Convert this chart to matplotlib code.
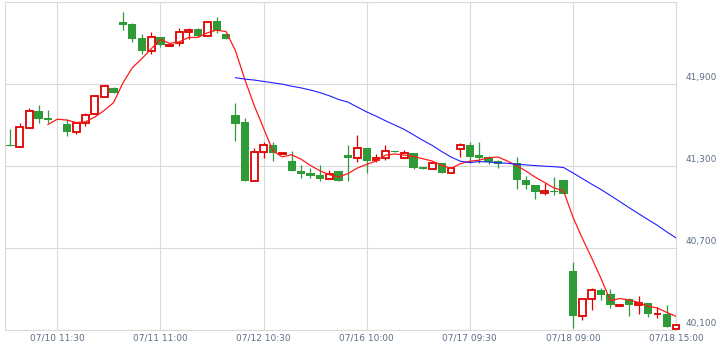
import pandas as pd
import matplotlib
matplotlib.use("Agg")
import matplotlib.pyplot as plt

# OHLC data, 30-minute bars
opens = [41450, 41435, 41575, 41700, 41650, 41640, 41605, 41550, 41610, 41675,
         41800, 41870, 42350, 42335, 42230, 42140, 42240, 42175, 42200, 42280,
         42300, 42245, 42355, 42265, 41670, 41620, 41190, 41400, 41450, 41385,
         41335, 41265, 41245, 41230, 41200, 41260, 41375, 41355, 41430, 41340,
         41360, 41410, 41360, 41390, 41290, 41275, 41320, 41245, 41420, 41450,
         41375, 41365, 41335, 41310, 41320, 41195, 41160, 41100, 41115, 41195,
         40530, 40205, 40330, 40395, 40360, 40275, 40330, 40280, 40300, 40215,
         40220, 40110]
highs = [41570, 41610, 41720, 41745, 41705, 41640, 41640, 41610, 41685, 41810,
         41890, 41875, 42425, 42340, 42265, 42280, 42240, 42185, 42305, 42310,
         42305, 42350, 42390, 42265, 41755, 41650, 41430, 41475, 41475, 41390,
         41405, 41305, 41280, 41305, 41270, 41260, 41450, 41525, 41430, 41385,
         41450, 41410, 41415, 41390, 41290, 41320, 41320, 41280, 41465, 41475,
         41475, 41370, 41340, 41310, 41365, 41225, 41160, 41175, 41220, 41195,
         40595, 40330, 40410, 40410, 40400, 40285, 40335, 40345, 40300, 40265,
         40285, 40135]
lows = [41445, 41435, 41575, 41610, 41610, 41640, 41515, 41535, 41590, 41675,
        41800, 41830, 42290, 42205, 42115, 42120, 42165, 42175, 42175, 42225,
        42240, 42245, 42270, 42225, 41480, 41190, 41190, 41355, 41335, 41385,
        41265, 41210, 41210, 41190, 41200, 41190, 41190, 41325, 41250, 41325,
        41340, 41400, 41355, 41275, 41275, 41275, 41245, 41245, 41365, 41320,
        41320, 41315, 41285, 41310, 41130, 41130, 41055, 41085, 41085, 41095,
        40115, 40175, 40245, 40320, 40260, 40275, 40200, 40220, 40195, 40185,
        40125, 40110]
closes = [41445, 41580, 41700, 41645, 41635, 41640, 41550, 41610, 41670, 41810,
          41880, 41835, 42330, 42225, 42135, 42240, 42185, 42185, 42280, 42295,
          42245, 42350, 42285, 42225, 41605, 41190, 41400, 41455, 41390, 41390,
          41265, 41240, 41225, 41200, 41240, 41190, 41355, 41430, 41335, 41360,
          41405, 41400, 41390, 41285, 41275, 41320, 41245, 41280, 41455, 41365,
          41360, 41330, 41310, 41310, 41195, 41160, 41105, 41115, 41110, 41095,
          40205, 40330, 40395, 40355, 40285, 40285, 40280, 40300, 40220, 40220,
          40125, 40135]

tick_pos = [5, 16, 27, 38, 49, 60, 71]
tick_labels = ["07/10 11:30", "07/11 11:00", "07/12 10:30", "07/16 10:00",
               "07/17 09:30", "07/18 09:00", "07/18 15:00"]
price_ticks = [40100, 40700, 41300, 41900, 42500]

df = pd.DataFrame({"open": opens, "high": highs, "low": lows, "close": closes})
df["ma5"] = df["close"].rolling(5).mean()
df["ma25"] = df["close"].rolling(25).mean()
x = df.index.values

up_color = "#dd0000"
down_color = "#2e9a38"
grid_color = "#dadada"
text_color = "#5f6e86"

fig = plt.figure(figsize=(7.23, 3.51), dpi=100)
ax = fig.add_axes([5 / 723, 21 / 351, 671 / 723, 328.5 / 351])

up = df["close"] > df["open"]
down = ~up

# wicks
ax.vlines(x[up], df["low"][up], df["high"][up], color=up_color, lw=0.9, zorder=2, clip_on=False)
ax.vlines(x[down], df["low"][down], df["high"][down], color=down_color, lw=0.9, zorder=2, clip_on=False)

# bodies
body_down = (df["open"] - df["close"])[down].clip(lower=4)
ax.bar(x[down], body_down, bottom=df["close"][down], width=0.88,
       color=down_color, linewidth=0, zorder=3)
body_up = (df["close"] - df["open"])[up].clip(lower=4)
bars = ax.bar(x[up], body_up, bottom=df["open"][up], width=0.74,
              facecolor="white", edgecolor=up_color, linewidth=1.3, zorder=3)
for b in bars:
    b.set_clip_on(False)

# moving averages
ax.plot(x, df["ma5"], color="#ff1a1a", lw=0.9, zorder=4)
ax.plot(x, df["ma25"], color="#2020ff", lw=0.8, zorder=4)

ax.set_xlim(-0.58, 71.0)
ax.set_ylim(40100, 42500)
ax.set_xticks(tick_pos)
ax.set_xticklabels(tick_labels)
ax.set_yticks(price_ticks)
ax.set_yticklabels([])
ax.grid(True, color=grid_color, lw=0.8, zorder=0)
ax.set_axisbelow(True)
ax.tick_params(length=0, labelsize=6.5, labelcolor=text_color, pad=2.5)
for s in ax.spines.values():
    s.set_color(grid_color)
    s.set_linewidth(0.8)

# price labels sit just above their gridline on the right side
for v in price_ticks[:-1]:
    ax.annotate(f"{v:,}", xy=(1, v), xycoords=ax.get_yaxis_transform(),
                xytext=(10, 2), textcoords="offset pixels",
                ha="left", va="bottom", fontsize=6.5, color=text_color)

fig.savefig("out.png", dpi=100)
